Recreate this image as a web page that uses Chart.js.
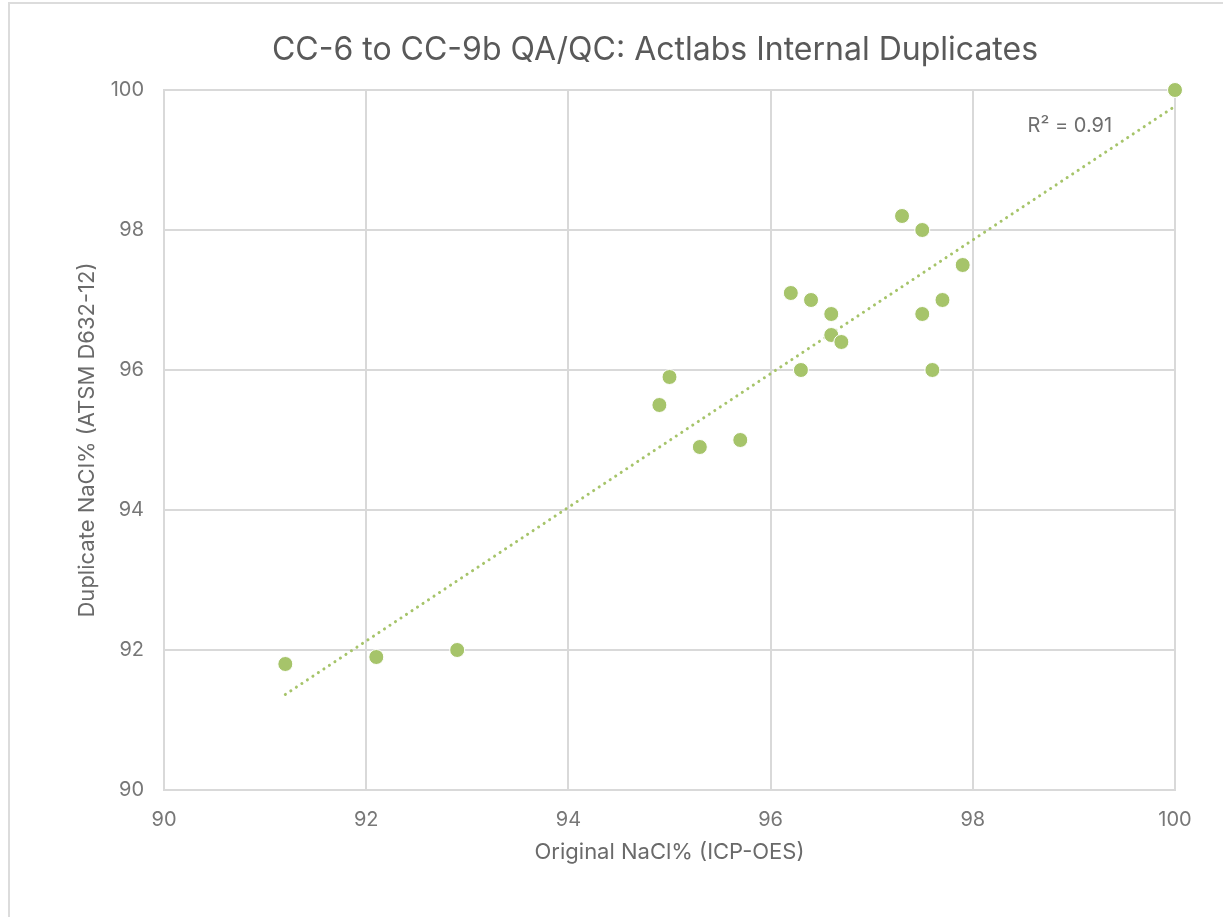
<!DOCTYPE html>
<html>
<head>
<meta charset="utf-8">
<script src="https://cdn.jsdelivr.net/npm/chart.js@4.4.1/dist/chart.umd.min.js"></script>
<style>
  html, body { margin: 0; padding: 0; background: #fff; overflow: hidden; }
  #frame { position: absolute; left: 8px; top: 2px; width: 1400px; height: 1100px; border: 2px solid #dcdcdc; box-sizing: border-box; }
  #wrap { position: absolute; left: 0; top: 0; width: 1223px; height: 917px; }
</style>
</head>
<body>
<div id="frame"></div>
<div id="wrap"><canvas id="c" width="1223" height="917"></canvas></div>
<script>
const chartTitle = "CC-6 to CC-9b QA/QC: Actlabs Internal Duplicates";
const xAxisTitle = "Original NaCl% (ICP-OES)";
const yAxisTitle = "Duplicate NaCl% (ATSM D632-12)";
const r2Label = "R\u00B2 = 0.91";

const originalNaCl = [100.0, 97.3, 97.5, 97.9, 96.2, 96.4, 97.7, 96.6, 97.5, 96.6, 96.7, 96.3, 97.6, 95.0, 94.9, 95.3, 95.7, 92.9, 92.1, 91.2];
const duplicateNaCl = [100.0, 98.2, 98.0, 97.5, 97.1, 97.0, 97.0, 96.8, 96.8, 96.5, 96.4, 96.0, 96.0, 95.9, 95.5, 94.9, 95.0, 92.0, 91.9, 91.8];

const axisMin = 90, axisMax = 100, axisStep = 2;

const points = originalNaCl.map((x, i) => ({ x: x, y: duplicateNaCl[i] }));

// linear least-squares trendline
const n = originalNaCl.length;
const mx = originalNaCl.reduce((a, b) => a + b, 0) / n;
const my = duplicateNaCl.reduce((a, b) => a + b, 0) / n;
let sxy = 0, sxx = 0;
for (let i = 0; i < n; i++) { sxy += (originalNaCl[i] - mx) * (duplicateNaCl[i] - my); sxx += (originalNaCl[i] - mx) ** 2; }
const slope = sxy / sxx, intercept = my - slope * mx;
const xMinData = Math.min(...originalNaCl), xMaxData = Math.max(...originalNaCl);
const trend = [xMinData, xMaxData].map(x => ({ x: x, y: intercept + slope * x }));

const green = "rgb(166,196,106)";
const FONT = "Inter, 'Open Sans', sans-serif";

const textPlugin = {
  id: 'texts',
  afterDraw(chart) {
    const { ctx, scales } = chart;
    ctx.save();
    // chart title
    ctx.font = "32px " + FONT;
    ctx.fillStyle = "#595959";
    ctx.textAlign = "center";
    ctx.textBaseline = "middle";
    ctx.fillText(chartTitle, 655, 50);
    // R² label
    const px = scales.x.getPixelForValue(98.96);
    const py = scales.y.getPixelForValue(99.49);
    ctx.font = "20px " + FONT;
    ctx.fillStyle = "#6e6e6e";
    ctx.fillText(r2Label, px, py);
    ctx.restore();
  }
};

new Chart(document.getElementById('c'), {
  type: 'scatter',
  data: {
    datasets: [
      {
        label: 'Duplicates',
        data: points,
        backgroundColor: green,
        borderColor: '#ffffff',
        borderWidth: 1,
        pointRadius: 7.5,
        pointHoverRadius: 7.5,
        clip: false,
        order: 0
      },
      {
        label: 'Linear trend',
        data: trend,
        type: 'line',
        showLine: true,
        borderColor: green,
        borderWidth: 3,
        borderDash: [0.1, 6.5],
        borderCapStyle: 'round',
        pointRadius: 0,
        fill: false,
        clip: false,
        order: 1
      }
    ]
  },
  plugins: [textPlugin],
  options: {
    responsive: false,
    animation: false,
    devicePixelRatio: 1,
    layout: { padding: { left: 74, right: 48, top: 90, bottom: 51 } },
    plugins: {
      legend: { display: false },
      tooltip: { enabled: false },
      title: { display: false }
    },
    scales: {
      x: {
        type: 'linear',
        min: axisMin, max: axisMax,
        ticks: { stepSize: axisStep, color: '#777777', font: { family: FONT, size: 20 }, padding: 18 },
        grid: { color: '#d9d9d9', lineWidth: 2, drawTicks: false },
        border: { color: '#d9d9d9', width: 2 },
        title: { display: true, text: xAxisTitle, color: '#6a6a6a', font: { family: FONT, size: 22 }, padding: 0 },
        afterFit(scale) { scale.height = 76; }
      },
      y: {
        type: 'linear',
        min: axisMin, max: axisMax,
        ticks: { stepSize: axisStep, color: '#777777', font: { family: FONT, size: 20 }, padding: 20 },
        grid: { color: '#d9d9d9', lineWidth: 2, drawTicks: false },
        border: { color: '#d9d9d9', width: 2 },
        title: { display: true, text: yAxisTitle, color: '#6a6a6a', font: { family: FONT, size: 22 }, padding: 0 },
        afterFit(scale) { scale.width = 90; }
      }
    }
  }
});
</script>
</body>
</html>
